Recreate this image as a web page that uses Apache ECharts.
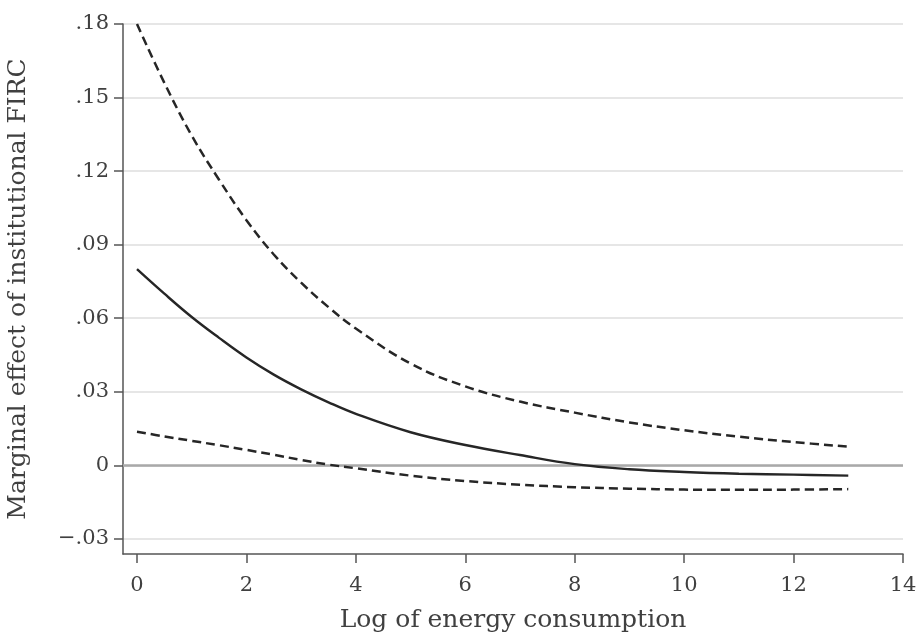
<!DOCTYPE html>
<html>
<head>
<meta charset="utf-8">
<script src="https://cdn.jsdelivr.net/npm/echarts@6/dist/echarts.min.js"></script>
<style>
html,body{margin:0;padding:0;background:#fff;}
#chart{width:919px;height:635px;}
</style>
</head>
<body>
<div id="chart"></div>
<script>
// Data
const xValues = [0, 0.5, 1, 1.5, 2, 2.5, 3, 3.5, 4, 5, 6, 7, 8, 9, 10, 11, 12, 13];
const upperCI = [0.180, 0.156, 0.1345, 0.1165, 0.100, 0.086, 0.0745, 0.0645, 0.0558, 0.0415, 0.0322, 0.026, 0.0215, 0.0175, 0.0143, 0.0117, 0.0095, 0.0076];
const marginalEffect = [0.080, 0.070, 0.0605, 0.052, 0.044, 0.037, 0.031, 0.0257, 0.021, 0.0135, 0.0083, 0.0042, 0.0005, -0.0016, -0.0027, -0.0034, -0.0038, -0.0042];
const lowerCI = [0.0137, 0.0118, 0.010, 0.0082, 0.0063, 0.0043, 0.0022, 0.0003, -0.0012, -0.0042, -0.0064, -0.0079, -0.0089, -0.0095, -0.0099, -0.0100, -0.0099, -0.0097];
const xTicks = [0, 2, 4, 6, 8, 10, 12, 14];
const yTicks = [-0.03, 0, 0.03, 0.06, 0.09, 0.12, 0.15, 0.18];
const xTitle = 'Log of energy consumption';
const yTitle = 'Marginal effect of institutional FIRC';

const FONT = 'DejaVu Serif';
const LINE = '#262626';
const AXIS = '#555555';
const TEXT = '#404040';

function pairs(ys) { return ys.map((y, i) => [xValues[i], y]); }
function fmtY(v) {
  v = Number(v);
  if (Math.abs(v) < 1e-9) return '0';
  return (v < 0 ? '\u2212' : '') + Math.abs(v).toFixed(2).replace(/^0/, '');
}

const chart = echarts.init(document.getElementById('chart'), null, {renderer: 'canvas'});
chart.setOption({
  animation: false,
  backgroundColor: '#ffffff',
  grid: {left: 123, right: 16, top: 24, bottom: 81, containLabel: false, outerBoundsMode: 'none'},
  xAxis: {
    type: 'value', min: -0.2557, max: 14,
    name: xTitle, nameLocation: 'middle', nameGap: 54,
    nameTextStyle: {fontFamily: FONT, fontSize: 25, color: TEXT},
    axisLine: {show: true, onZero: false, lineStyle: {color: AXIS, width: 1.5}},
    axisTick: {show: true, length: 9, customValues: xTicks, lineStyle: {color: AXIS, width: 1.5}},
    axisLabel: {customValues: xTicks, margin: 21, fontFamily: FONT, fontSize: 21, color: TEXT},
    splitLine: {show: false}
  },
  yAxis: {
    type: 'value', min: -0.03616, max: 0.18,
    name: yTitle, nameLocation: 'middle', nameGap: 92,
    nameTextStyle: {fontFamily: FONT, fontSize: 25, color: TEXT},
    axisLine: {show: true, onZero: false, lineStyle: {color: AXIS, width: 1.5}},
    axisTick: {show: true, length: 9, customValues: yTicks, lineStyle: {color: AXIS, width: 1.5}},
    axisLabel: {customValues: yTicks, margin: 14, fontFamily: FONT, fontSize: 21, color: TEXT, formatter: fmtY},
    splitLine: {show: true, lineStyle: {color: '#dedede', width: 1.5}}
  },
  series: [
    {
      type: 'line', data: pairs(upperCI), smooth: 0.4, showSymbol: false,
      lineStyle: {color: LINE, width: 2.5, type: [9, 5]}, z: 3,
      markLine: {
        silent: true, symbol: 'none', label: {show: false},
        lineStyle: {color: '#a9a9a9', width: 2.5, type: 'solid'},
        data: [{yAxis: 0}], z: 1
      }
    },
    {
      type: 'line', data: pairs(marginalEffect), smooth: 0.4, showSymbol: false,
      lineStyle: {color: LINE, width: 2.4, type: 'solid'}, z: 3
    },
    {
      type: 'line', data: pairs(lowerCI), smooth: 0.4, showSymbol: false,
      lineStyle: {color: LINE, width: 2.5, type: [9, 5]}, z: 3
    }
  ]
});
</script>
</body>
</html>
